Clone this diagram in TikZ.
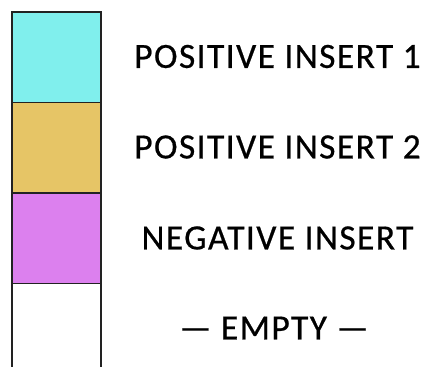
\documentclass[tikz,border=0pt]{standalone}
\usepackage{fontspec}
\setmainfont{Carlito}
\usepackage{xcolor}
\usetikzlibrary{positioning}
\definecolor{cyanins}{HTML}{80EFED}
\definecolor{goldins}{HTML}{E6C566}
\definecolor{violetins}{HTML}{DC80EE}
\definecolor{edge}{HTML}{222222}

\begin{document}
\begin{tikzpicture}[x=1pt, y=-1pt]
        \useasboundingbox (0,0) rectangle (428,367);
        \tikzset{
            cell/.style={draw=edge, line width=1.8pt, minimum width=89pt, minimum height=90.5pt, inner sep=0pt, outer sep=0pt},
            tag/.style={font=\fontsize{35.5}{40}\selectfont\addfontfeatures{LetterSpace=4, FakeBold=0.6}, text=black, inner sep=0pt}
        }
        % Strip of cells
        \node[cell, fill=cyanins] (pos1) at (56.5, 57.25) {};
        \node[cell, fill=goldins, below=0pt of pos1] (pos2) {};
        \node[cell, fill=violetins, below=0pt of pos2] (neg) {};
        
        % Open bottom cell
        \coordinate (bottom) at (56.5, 367);
        \draw[edge, line width=1.8pt] (neg.south west) -- (neg.south west |- bottom);
        \draw[edge, line width=1.8pt] (neg.south east) -- (neg.south east |- bottom);
        
        % Labels
        \node[tag] (tagpos1) at (277.5, 56.5) {POSITIVE INSERT 1};
        \node[tag] (tagpos2) at (277.5, 147) {POSITIVE INSERT 2};
        \node[tag] (tagneg) at (277.5, 238) {NEGATIVE INSERT};
        \node[tag] (tagempty) at (274, 328) {— EMPTY —};
    \end{tikzpicture}
\end{document}
